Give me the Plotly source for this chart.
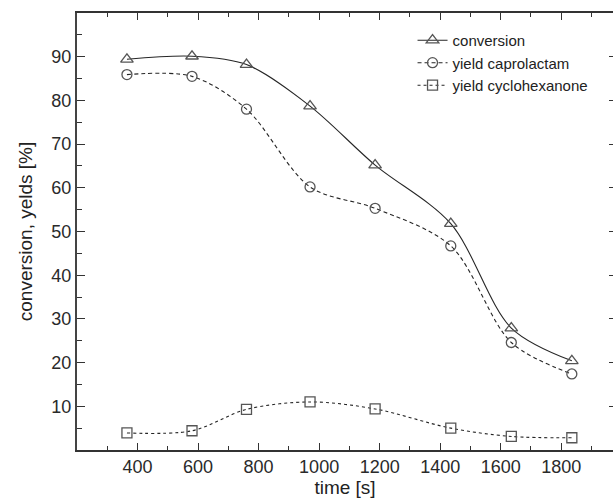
import plotly.graph_objects as go

time_s = [365, 580, 760, 970, 1185, 1435, 1635, 1835]
conversion = [89.4, 90.1, 88.2, 78.7, 65.2, 51.8, 27.9, 20.4]
yield_caprolactam = [85.9, 85.5, 78.0, 60.2, 55.3, 46.7, 24.6, 17.4]
yield_cyclohexanone = [3.9, 4.4, 9.3, 11.0, 9.4, 5.0, 3.1, 2.8]

x_ticks = [400, 600, 800, 1000, 1200, 1400, 1600, 1800]
y_ticks = [10, 20, 30, 40, 50, 60, 70, 80, 90]

FONT = "Liberation Sans, Arial, sans-serif"
LINE = "#262626"
MARK = "#555555"

fig = go.Figure()
series = [
    ("conversion", conversion, "solid", "triangle-up-open", 11),
    ("yield caprolactam", yield_caprolactam, "4px,3px", "circle-open", 10),
    ("yield cyclohexanone", yield_cyclohexanone, "dot", "square-open", 10),
]
for name, vals, dash, sym, size in series:
    fig.add_trace(go.Scatter(
        x=time_s, y=vals, name=name, mode="lines+markers",
        line=dict(color=LINE, width=1.1, dash=dash, shape="spline", smoothing=0.9),
        marker=dict(symbol=sym, size=size, color=MARK, line=dict(width=1.3, color=MARK)),
    ))

# invisible trace to anchor right-side tick axis
fig.add_trace(go.Scatter(x=[time_s[0]], y=[conversion[0]], yaxis="y2", mode="markers",
                         marker=dict(opacity=0), showlegend=False, hoverinfo="skip"))

fig.update_layout(
    width=613, height=499,
    margin=dict(l=77, r=0, t=13, b=49),
    paper_bgcolor="white", plot_bgcolor="white",
    font=dict(family=FONT, size=18, color="#222222"),
    showlegend=True,
    legend=dict(x=0.626, y=0.975, xanchor="left", yanchor="top",
                font=dict(size=15, family=FONT, color="#222222"),
                bgcolor="rgba(0,0,0,0)", tracegroupgap=0, itemwidth=30),
    xaxis=dict(
        range=[200, 1971], tickvals=x_ticks, ticktext=[str(v) for v in x_ticks],
        showgrid=False, zeroline=False, automargin=False,
        showline=True, linecolor="#333333", linewidth=1.5, mirror="ticks",
        ticks="inside", ticklen=7, tickwidth=1.2, tickcolor="#333333",
        minor=dict(dtick=100, tick0=200, ticks="inside", ticklen=4, tickwidth=1.2, tickcolor="#333333"),
        title=dict(text="time [s]", font=dict(size=19), standoff=3),
        tickfont=dict(size=18, color="#2a2a2a"),
    ),
    yaxis=dict(
        range=[0, 100], tickvals=y_ticks, ticktext=[str(v) for v in y_ticks],
        showgrid=False, zeroline=False, automargin=False,
        showline=True, linecolor="#444444", linewidth=2,
        ticks="inside", ticklen=8, tickwidth=1.2, tickcolor="#333333",
        minor=dict(dtick=5, tick0=0, ticks="inside", ticklen=5, tickwidth=1.2, tickcolor="#333333"),
        title=dict(text="conversion, yelds [%]", font=dict(size=19), standoff=14),
        tickfont=dict(size=18, color="#2a2a2a"),
    ),
    yaxis2=dict(
        overlaying="y", side="right", range=[0, 100], tickvals=y_ticks,
        showticklabels=False, showgrid=False, zeroline=False, showline=False,
        ticks="inside", ticklen=4, tickwidth=1.2, tickcolor="#333333",
    ),
)

fig.write_html("out.html")
